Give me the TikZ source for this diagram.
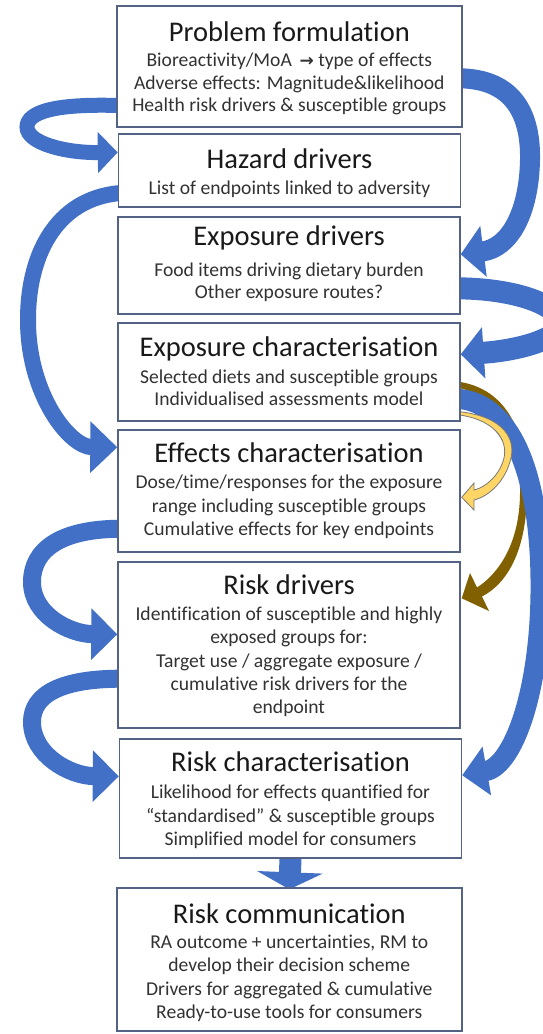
\documentclass[tikz,border=0pt]{standalone}
\usepackage{fontspec}
\setmainfont{Carlito}[Ligatures=NoCommon]
\newfontfamily\arrowfont{DejaVu Sans}
\usetikzlibrary{arrows.meta,calc,backgrounds}

\definecolor{boxline}{RGB}{84,98,134}
\definecolor{flowblue}{RGB}{66,112,198}
\definecolor{olivegold}{RGB}{128,96,0}
\definecolor{paleyellow}{RGB}{255,214,102}
\definecolor{edgegrey}{RGB}{120,120,120}
\definecolor{titlegrey}{RGB}{25,25,25}
\definecolor{bodygrey}{RGB}{50,50,50}

% body text is anchored at the baseline of its last line
\newcommand{\bodyfont}[1]{\fontsize{19.6}{#1}\selectfont}
\tikzset{
  stage/.style={draw=boxline, line width=1.4pt, fill=white, inner sep=0pt, minimum width=342pt},
  stagetitle/.style={anchor=base, inner sep=0pt, text=titlegrey, font=\fontsize{28.5}{34}\selectfont},
  stagebody/.style={anchor=base, inner sep=0pt, align=center, text=bodygrey, font=\bodyfont{#1}},
  stagebody/.default=23.3pt,
  band/.style={draw=flowblue, line width=#1},
}

\begin{document}
\begin{tikzpicture}[x=1pt, y=-1pt]
\useasboundingbox (0,0) rectangle (542,1034);

% stage boxes
\node[stage, minimum width=345pt, minimum height=121pt] (pf) at (289.3,66.5) {};
\node[stage, minimum height=73pt]  (hz) at (289.5,170.5) {};
\node[stage, minimum height=97pt]  (ed) at (289,265.5) {};
\node[stage, minimum height=98pt]  (ec) at (289,372) {};
\node[stage, minimum height=122pt] (ef) at (289,491) {};
\node[stage, minimum height=166pt] (rd) at (289,645) {};
\node[stage, minimum height=119pt] (rc) at (290.5,798.5) {};
\node[stage, minimum width=345pt, minimum height=143pt] (cm) at (289.3,959.5) {};

% titles
\node[stagetitle] (pf-t) at (pf.center |- 0,41)  {Problem formulation};
\node[stagetitle] (hz-t) at (hz.center |- 0,168) {Hazard drivers};
\node[stagetitle] (ed-t) at (ed.center |- 0,245) {Exposure drivers};
\node[stagetitle] (ec-t) at (ec.center |- 0,356) {Exposure characterisation};
\node[stagetitle] (ef-t) at (ef.center |- 0,462) {Effects characterisation};
\node[stagetitle] (rd-t) at (rd.center |- 0,594) {Risk drivers};
\node[stagetitle] (rc-t) at (rc.center |- 0,771) {Risk characterisation};
\node[stagetitle] (cm-t) at (cm.center |- 0,923) {Risk communication};

% body lines
\node[stagebody=22.5pt] (pf-b) at (pf.center |- 0,111.5)
  {Bioreactivity/MoA\, {\arrowfont\bfseries\fontsize{17}{20}\selectfont →} type of effects\\Adverse effects: Magnitude\&likelihood\\Health risk drivers \& susceptible groups};
\node[stagebody] (hz-b) at (hz.center |- 0,194.5) {List of endpoints linked to adversity};
\node[stagebody=22.5pt] (ed-b) at (ed.center |- 0,298.5)
  {Food items driving dietary burden\\Other exposure routes?};
\node[stagebody=22pt] (ec-b) at (ec.center |- 0,405.5)
  {Selected diets and susceptible groups\\Individualised assessments model};
\node[stagebody=23.5pt] (ef-b) at (ef.center |- 0,535.5)
  {Dose/time/responses for the exposure\\range including susceptible groups\\Cumulative effects for key endpoints};
\node[stagebody] (rd-b) at (rd.center |- 0,713.7)
  {Identification of susceptible and highly\\exposed groups for:\\Target use / aggregate exposure /\\cumulative risk drivers for the\\endpoint};
\node[stagebody=23.5pt] (rc-b) at (rc.center |- 0,845.5)
  {Likelihood for effects quantified for\\“standardised” \& susceptible groups\\Simplified model for consumers};
\node[stagebody] (cm-b) at (cm.center |- 0,1018.4)
  {RA outcome + uncertainties, RM to\\develop their decision scheme\\Drivers for aggregated \& cumulative\\Ready-to-use tools for consumers};

\begin{scope}[on background layer]
  % left-hand loops
  \draw[band=15pt, -{Triangle[length=20pt,width=40pt]}]
    ($(pf.south west)+(8,-22)$) .. controls (55,103) and (27,112) .. (27,127)
    .. controls (27,143) and (65,153) .. ($(hz.north west)+(0,19)$);
  \draw[band=16pt, -{Triangle[length=27pt,width=50pt]}]
    ($(hz.south west)+(8,-15)$) .. controls (60,195) and (28,250) .. (28,320)
    .. controls (28,395) and (70,447) .. ($(ef.north west)+(0,18)$);
  \draw[band=18pt, -{Triangle[length=26pt,width=50pt]}]
    ($(ef.south west)+(8,-24)$) .. controls (60,528) and (32,550) .. (32,582)
    .. controls (32,615) and (70,634) .. ($(rd.north west)+(0,73)$);
  \draw[band=18pt, -{Triangle[length=26pt,width=50pt]}]
    ($(rd.south west)+(8,-50)$) .. controls (60,678) and (32,695) .. (32,722)
    .. controls (32,755) and (70,776) .. ($(rc.north west)+(0,38)$);

  % right-hand loops
  \draw[band=20pt, -{Triangle[length=23pt,width=50pt]}]
    ($(pf.north east)+(-8,73)$) .. controls (510,77) and (531,110) .. (530,160)
    .. controls (529,212) and (510,248) .. ($(ed.north east)+(0,38)$);
  \draw[band=22pt, -{Triangle[length=23pt,width=50pt]}]
    ($(ed.north east)+(-8,72)$) .. controls (505,288) and (548,300) .. (560,318)
    .. controls (570,335) and (525,350) .. ($(ec.north east)+(0,32)$);

  % tapered gold arrow to the risk drivers
  \fill[olivegold] (452,381) .. controls (505,385) and (528,430) .. (527,495)
    .. controls (526,550) and (508,583) .. (482,596.5) -- (489,611)
    -- ($(rd.north east)+(1,37)$) -- (470,573) -- (477,587.5)
    .. controls (498,574) and (519,545) .. (520,495)
    .. controls (521,440) and (500,392) .. (452,387) -- cycle;

  % long blue arrow to the risk characterisation
  \draw[band=20pt, -{Triangle[length=25pt,width=48pt]}]
    ($(ec.south east)+(-8,-23)$) .. controls (500,398) and (535,450) .. (540,560)
    .. controls (545,680) and (515,766) .. ($(rc.north east)+(0,37)$);

  % tapered yellow arrow to the effects characterisation
  \filldraw[fill=paleyellow, draw=edgegrey, line width=0.8pt]
    (452,411) .. controls (500,414) and (516,436) .. (511,458)
    .. controls (506,480) and (490,496) .. (474,500) -- (474,510)
    -- ($(ef.north east)+(1,68)$) -- (474,483) -- (474,490)
    .. controls (487,487) and (500,474) .. (504,458)
    .. controls (508,440) and (495,418) .. (452,414) -- cycle;

  % straight block arrow to the communication step
  \draw[band=22pt, -{Triangle[length=17pt,width=65pt]}]
    (rc.south) -- ($(cm.north)+(0,2)$);
\end{scope}
\end{tikzpicture}
\end{document}
